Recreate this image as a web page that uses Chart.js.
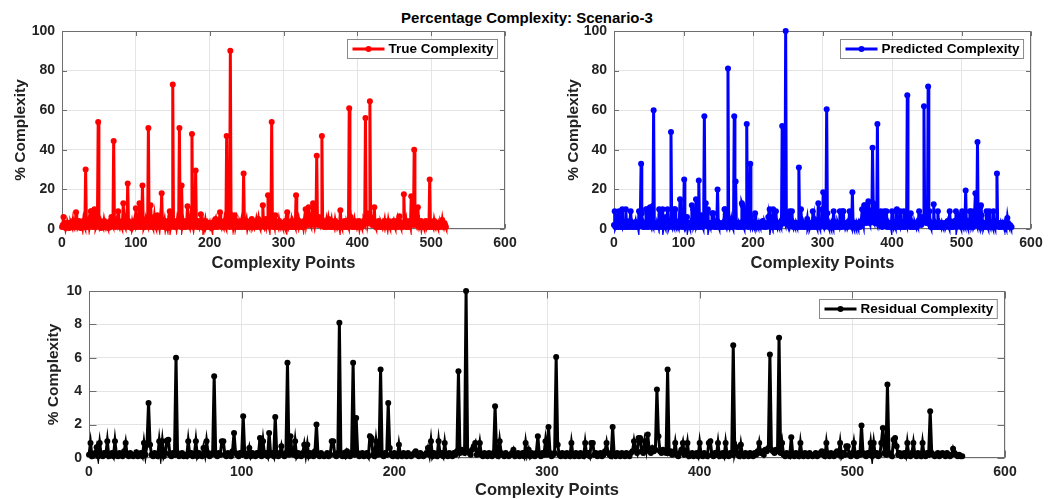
<!DOCTYPE html>
<html>
<head>
<meta charset="utf-8">
<title>Percentage Complexity: Scenario-3</title>
<script src="https://cdn.jsdelivr.net/npm/chart.js@4.4.1/dist/chart.umd.min.js"></script>
<style>
    body { margin: 0; width: 1059px; height: 499px; overflow: hidden; background: #fff; font-family: 'Liberation Sans', Arial, sans-serif; }
    canvas { position: absolute; }
    #mainTitle { position: absolute; left: 0; top: 9px; width: 1054px; line-height: 18px; text-align: center; font-weight: bold; font-size: 15px; color: #000; }
</style>
</head>
<body>
<div id="mainTitle">Percentage Complexity: Scenario-3</div>
<canvas id="trueChart" width="523" height="258" style="left:0px;top:15px"></canvas>
<canvas id="predChart" width="497" height="258" style="left:552px;top:15px"></canvas>
<canvas id="resChart" width="996" height="225" style="left:27px;top:275px"></canvas>
<script>
// Tick labels
const xTicks = [0, 100, 200, 300, 400, 500, 600];
const yTicksPercent = [0, 20, 40, 60, 80, 100];
const yTicksResidual = [0, 2, 4, 6, 8, 10];

// True Complexity (index 0..520)
const trueComplexity = [
    1, 2, 6, 1, 3, 0.5, 2, 1, 3, 2, 0.5, 1, 3, 2, 1, 4, 2, 1, 3, 8.5,
    3, 1, 2, 4, 1, 0.5, 2, 3, 1, 4, 2, 1, 30, 3, 1, 2, 4, 1, 3, 9,
    9, 2, 1, 4, 10, 3, 1, 2, 4, 54, 3, 1, 2, 0.5, 3, 2, 1, 4, 2, 1,
    3, 2, 1, 0.5, 2, 4, 1, 6, 3, 2, 44.5, 4, 1, 3, 2, 5, 9, 2, 1, 3,
    2, 1, 4, 13, 3, 2, 1, 5, 2, 23, 4, 1, 3, 2, 0.5, 3, 1, 2, 4, 1,
    10.5, 2, 3, 1, 4, 13, 2, 1, 5, 22, 3, 1, 2, 4, 1, 3, 2, 51, 3, 1,
    12, 4, 2, 1, 3, 6, 2, 1, 4, 7, 2, 3, 1, 5, 2, 18, 3, 1, 2, 4,
    1, 3, 2, 0.5, 4, 2, 9, 1, 3, 2, 73, 4, 1, 2, 3, 1, 4, 2, 3, 51,
    3, 1, 22, 2, 4, 1, 3, 2, 1, 4, 11.5, 3, 2, 1, 5, 2, 48, 3, 1, 4,
    2, 29.5, 3, 1, 4, 2, 1, 3, 7.5, 2, 1, 3, 0.5, 2, 4, 1, 2, 3, 1, 2,
    3, 1, 2, 0.5, 3, 2, 1, 4, 5, 2, 1, 3, 2, 4, 8.5, 2, 1, 3, 2, 1,
    4, 2, 1, 47, 3, 2, 5, 1, 90, 3, 2, 4, 1, 3, 7, 2, 4, 1, 3, 2,
    1, 3, 2, 4, 1, 2, 28, 3, 1, 2, 4, 1, 3, 2, 1, 3, 2, 5, 1, 2,
    3, 1, 2, 4, 1, 3, 5, 2, 1, 3, 2, 4, 12, 2, 1, 3, 5, 2, 4, 17,
    3, 1, 8, 2, 54, 3, 1, 4, 2, 7, 1, 3, 2, 1, 4, 2, 1, 3, 2, 1,
    3, 2, 1, 4, 2, 8.5, 3, 1, 2, 3, 1, 4, 2, 1, 3, 2, 1, 17, 3, 2,
    1, 4, 2, 3, 1, 2, 3, 1, 4, 2, 10, 3, 5, 2, 11, 4, 3, 2, 6, 3,
    13, 4, 2, 5, 3, 37, 4, 2, 6, 3, 2, 4, 47, 3, 2, 1, 3, 2, 4, 1,
    2, 5, 3, 1, 2, 4, 1, 3, 2, 1, 4, 2, 3, 1, 2, 3, 1, 9.5, 2, 1,
    3, 2, 1, 4, 2, 1, 3, 2, 1, 61, 3, 6, 2, 1, 3, 2, 4, 1, 2, 3,
    1, 2, 4, 1, 3, 2, 1, 3, 2, 4, 3, 56, 5, 8, 3, 5, 4, 64.5, 6, 3,
    2, 4, 3, 11, 2, 1, 3, 2, 1, 4, 2, 1, 3, 2, 1, 3, 2, 4, 1, 2,
    3, 1, 4, 2, 1, 3, 2, 1, 3, 4, 2, 1, 3, 2, 4, 1, 3, 6.5, 2, 1,
    3, 2, 1, 17.5, 3, 2, 4, 1, 3, 2, 1, 4, 2, 16.5, 3, 5, 2, 40, 8, 3,
    2, 6, 11, 3, 1, 2, 4, 1, 3, 2, 1, 3, 2, 4, 1, 2, 3, 1, 25, 2,
    1, 3, 2, 1, 4, 2, 1, 3, 2, 1, 3, 2, 1, 3, 2, 4.5, 2, 1, 3, 2,
    1
];

// Predicted Complexity (index 0..572)
const predictedComplexity = [
    2, 9, 1, 2, 3, 6.5, 1, 9, 2, 1, 3, 2, 10, 1, 2, 3, 1, 10, 2, 1,
    3, 2, 1, 4, 9, 2, 1, 3, 2, 1, 2, 3.5, 1, 2, 3, 1, 9, 2, 8, 33,
    8, 2, 1, 3, 2, 1, 10, 2, 10, 1, 3, 10.5, 11, 2, 1, 3, 2, 60, 3, 1,
    2, 3, 1, 2, 1, 10, 2, 3, 1, 2, 10, 1, 3, 2, 1, 6, 2, 10, 3, 1,
    2, 3, 49, 2, 1, 3, 2, 10, 10, 2, 1, 3, 2, 1, 4, 15, 3, 2, 1, 3,
    2, 25, 3, 1, 2, 6, 1, 3, 2, 1, 3, 2, 12, 1, 10, 2, 3, 1, 15, 2,
    3, 1, 24.5, 2, 1, 3, 7, 2, 1, 3, 57, 2, 13, 3, 2, 10, 1, 3, 2, 1,
    3, 8, 2, 8, 1, 3, 2, 1, 4, 20, 2, 1, 3, 2, 1, 2, 3, 1, 2, 10,
    10, 2, 1, 3, 81, 2, 1, 3, 1, 4, 2, 1, 3, 57, 2, 24, 3, 1, 2, 3,
    1, 2, 3, 1, 13, 12, 2, 1, 10, 2, 3, 53, 2, 1, 3, 2, 33, 6, 2, 1,
    3, 2, 1, 8, 2, 1, 3, 2, 1, 3, 2, 1, 2, 3, 4, 2, 1, 3, 2, 1,
    2, 3, 6, 2, 10, 1, 3, 2, 1, 10, 2, 3, 1, 9, 2, 1, 3, 2, 1, 3,
    2, 4, 52, 3, 5, 4, 3, 100, 4, 3, 2, 5, 7, 9, 2, 3, 9, 2, 1, 3,
    2, 1, 3, 2, 1, 3, 31, 2, 1, 10, 3, 2, 1, 3, 2, 1, 2, 3, 5, 1,
    2, 3, 1, 2, 3, 1, 9, 2, 5, 1, 3, 2, 1, 3, 13, 2, 1, 3, 2, 10,
    2, 18.5, 3, 1, 2, 3, 60.5, 8, 2, 1, 3, 2, 1, 3, 2, 1, 9, 2, 1, 3,
    2, 1, 3, 2, 1, 9, 2, 3, 1, 9, 9, 2, 3, 1, 2, 3, 1, 2, 4, 9,
    3, 2, 1, 18.5, 2, 1, 3, 2, 1, 3, 2, 1, 3, 2, 1, 3, 4, 10, 5, 3,
    12, 12, 4, 3, 10, 5, 14, 4, 3, 6, 4, 5, 41, 13, 4, 3, 5, 4, 3, 53,
    3, 4, 2, 3, 9, 2, 1, 3, 5, 9, 2, 3, 9, 1, 2, 3, 1, 2, 3, 1,
    9, 2, 1, 3, 2, 1, 9, 10, 2, 1, 3, 2, 9, 1, 2, 3, 1, 9, 2, 1,
    3, 2, 67.5, 3, 6.5, 2, 1, 8, 2, 1, 3, 2, 1, 3, 2, 1, 3, 2, 4, 9,
    3, 4, 2, 5, 4, 6, 62, 5, 4, 3, 5, 4, 72, 3, 9, 2, 1, 3, 2, 1,
    12.5, 2, 1, 3, 2, 1, 9, 2, 1, 3, 2, 1, 3, 2, 1, 2, 3, 1, 2, 3,
    4, 2, 1, 9, 2, 1, 3, 2, 1, 3, 4, 2, 9, 1, 3, 2, 7, 7, 2, 1,
    3, 9, 2, 1, 3, 2, 19.5, 3, 2, 1, 3, 2, 9, 1, 9, 2, 3, 1, 2, 9,
    18, 3, 2, 44, 3, 2, 1, 11, 12, 7, 2, 3, 1, 2, 3, 1, 9, 2, 1, 3,
    9, 2, 1, 3, 2, 1, 9, 2, 1, 3, 2, 28, 3, 2, 1, 2, 3, 1, 2, 3,
    2, 1, 3, 2, 1, 2, 5.5, 3, 2, 1, 2, 1, 1
];

// Residual Complexity (index 0..572)
const residualComplexity = [
    0.2, 0.9, 0.1, 0.2, 0.3, 0.65, 0.1, 0.9, 0.2, 0.1, 0.3, 0.2, 1, 0.1, 0.2, 0.3, 0.1, 1, 0.2, 0.1,
    0.3, 0.2, 0.1, 0.4, 0.9, 0.2, 0.1, 0.3, 0.2, 0.1, 0.2, 0.35, 0.1, 0.2, 0.3, 0.1, 0.9, 0.2, 0.8, 3.3,
    0.8, 0.2, 0.1, 0.3, 0.2, 0.1, 1, 0.2, 1, 0.1, 0.3, 1.05, 1.1, 0.2, 0.1, 0.3, 0.2, 6, 0.3, 0.1,
    0.2, 0.3, 0.1, 0.2, 0.1, 1, 0.2, 0.3, 0.1, 0.2, 1, 0.1, 0.3, 0.2, 0.1, 0.6, 0.2, 1, 0.3, 0.1,
    0.2, 0.3, 4.9, 0.2, 0.1, 0.3, 0.2, 1, 1, 0.2, 0.1, 0.3, 0.2, 0.1, 0.4, 1.5, 0.3, 0.2, 0.1, 0.3,
    0.2, 2.5, 0.3, 0.1, 0.2, 0.6, 0.1, 0.3, 0.2, 0.1, 0.3, 0.2, 1.2, 0.1, 1, 0.2, 0.3, 0.1, 1.5, 0.2,
    0.3, 0.1, 2.45, 0.2, 0.1, 0.3, 0.7, 0.2, 0.1, 0.3, 5.7, 0.2, 1.3, 0.3, 0.2, 1, 0.1, 0.3, 0.2, 0.1,
    0.3, 0.8, 0.2, 0.8, 0.1, 0.3, 0.2, 0.1, 0.4, 2, 0.2, 0.1, 0.3, 0.2, 0.1, 0.2, 0.3, 0.1, 0.2, 1,
    1, 0.2, 0.1, 0.3, 8.1, 0.2, 0.1, 0.3, 0.1, 0.4, 0.2, 0.1, 0.3, 5.7, 0.2, 2.4, 0.3, 0.1, 0.2, 0.3,
    0.1, 0.2, 0.3, 0.1, 1.3, 1.2, 0.2, 0.1, 1, 0.2, 0.3, 5.3, 0.2, 0.1, 0.3, 0.2, 3.3, 0.6, 0.2, 0.1,
    0.3, 0.2, 0.1, 0.8, 0.2, 0.1, 0.3, 0.2, 0.1, 0.3, 0.2, 0.1, 0.2, 0.3, 0.4, 0.2, 0.1, 0.3, 0.2, 0.1,
    0.2, 0.3, 0.6, 0.2, 1, 0.1, 0.3, 0.2, 0.1, 1, 0.2, 0.3, 0.1, 0.9, 0.2, 0.1, 0.3, 0.2, 0.1, 0.3,
    0.2, 0.4, 5.2, 0.3, 0.5, 0.4, 0.3, 10, 0.4, 0.3, 0.2, 0.5, 0.7, 0.9, 0.2, 0.3, 0.9, 0.2, 0.1, 0.3,
    0.2, 0.1, 0.3, 0.2, 0.1, 0.3, 3.1, 0.2, 0.1, 1, 0.3, 0.2, 0.1, 0.3, 0.2, 0.1, 0.2, 0.3, 0.5, 0.1,
    0.2, 0.3, 0.1, 0.2, 0.3, 0.1, 0.9, 0.2, 0.5, 0.1, 0.3, 0.2, 0.1, 0.3, 1.3, 0.2, 0.1, 0.3, 0.2, 1,
    0.2, 1.85, 0.3, 0.1, 0.2, 0.3, 6.05, 0.8, 0.2, 0.1, 0.3, 0.2, 0.1, 0.3, 0.2, 0.1, 0.9, 0.2, 0.1, 0.3,
    0.2, 0.1, 0.3, 0.2, 0.1, 0.9, 0.2, 0.3, 0.1, 0.9, 0.9, 0.2, 0.3, 0.1, 0.2, 0.3, 0.1, 0.2, 0.4, 0.9,
    0.3, 0.2, 0.1, 1.85, 0.2, 0.1, 0.3, 0.2, 0.1, 0.3, 0.2, 0.1, 0.3, 0.2, 0.1, 0.3, 0.4, 1, 0.5, 0.3,
    1.2, 1.2, 0.4, 0.3, 1, 0.5, 1.4, 0.4, 0.3, 0.6, 0.4, 0.5, 4.1, 1.3, 0.4, 0.3, 0.5, 0.4, 0.3, 5.3,
    0.3, 0.4, 0.2, 0.3, 0.9, 0.2, 0.1, 0.3, 0.5, 0.9, 0.2, 0.3, 0.9, 0.1, 0.2, 0.3, 0.1, 0.2, 0.3, 0.1,
    0.9, 0.2, 0.1, 0.3, 0.2, 0.1, 0.9, 1, 0.2, 0.1, 0.3, 0.2, 0.9, 0.1, 0.2, 0.3, 0.1, 0.9, 0.2, 0.1,
    0.3, 0.2, 6.75, 0.3, 0.65, 0.2, 0.1, 0.8, 0.2, 0.1, 0.3, 0.2, 0.1, 0.3, 0.2, 0.1, 0.3, 0.2, 0.4, 0.9,
    0.3, 0.4, 0.2, 0.5, 0.4, 0.6, 6.2, 0.5, 0.4, 0.3, 0.5, 0.4, 7.2, 0.3, 0.9, 0.2, 0.1, 0.3, 0.2, 0.1,
    1.25, 0.2, 0.1, 0.3, 0.2, 0.1, 0.9, 0.2, 0.1, 0.3, 0.2, 0.1, 0.3, 0.2, 0.1, 0.2, 0.3, 0.1, 0.2, 0.3,
    0.4, 0.2, 0.1, 0.9, 0.2, 0.1, 0.3, 0.2, 0.1, 0.3, 0.4, 0.2, 0.9, 0.1, 0.3, 0.2, 0.7, 0.7, 0.2, 0.1,
    0.3, 0.9, 0.2, 0.1, 0.3, 0.2, 1.95, 0.3, 0.2, 0.1, 0.3, 0.2, 0.9, 0.1, 0.9, 0.2, 0.3, 0.1, 0.2, 0.9,
    1.8, 0.3, 0.2, 4.4, 0.3, 0.2, 0.1, 1.1, 1.2, 0.7, 0.2, 0.3, 0.1, 0.2, 0.3, 0.1, 0.9, 0.2, 0.1, 0.3,
    0.9, 0.2, 0.1, 0.3, 0.2, 0.1, 0.9, 0.2, 0.1, 0.3, 0.2, 2.8, 0.3, 0.2, 0.1, 0.2, 0.3, 0.1, 0.2, 0.3,
    0.2, 0.1, 0.3, 0.2, 0.1, 0.2, 0.55, 0.3, 0.2, 0.1, 0.2, 0.1, 0.1
];

const fontFamily = "'Liberation Sans', Arial, sans-serif";
const axisColor = '#6e6e6e';
const gridColor = '#e4e4e4';

// Achsenrahmen mit nach innen zeigenden Ticks (wie MATLAB)
const axesBoxPlugin = {
    id: 'axesBox',
    beforeDatasetsDraw(chart, args, opts)
    {
        const { ctx, chartArea: a, scales } = chart;
        const L = opts.tickLength || 5;
        const left = Math.round(a.left) + 0.5, right = Math.round(a.right) - 0.5;
        const top = Math.round(a.top) + 0.5, bottom = Math.round(a.bottom) - 0.5;
        ctx.save();
        ctx.strokeStyle = axisColor;
        ctx.lineWidth = 1;
        ctx.strokeRect(left, top, right - left, bottom - top);
        ctx.beginPath();
        scales.x.ticks.forEach(t =>
        {
            const x = Math.round(scales.x.getPixelForValue(t.value)) + 0.5;
            ctx.moveTo(x, bottom); ctx.lineTo(x, bottom - L);
            ctx.moveTo(x, top); ctx.lineTo(x, top + L);
        });
        scales.y.ticks.forEach(t =>
        {
            const y = Math.round(scales.y.getPixelForValue(t.value)) + 0.5;
            ctx.moveTo(left, y); ctx.lineTo(left + L, y);
            ctx.moveTo(right, y); ctx.lineTo(right - L, y);
        });
        ctx.stroke();
        ctx.restore();
    }
};

// Legende im Diagramm oben rechts
const boxLegendPlugin = {
    id: 'boxLegend',
    afterDraw(chart)
    {
        const { ctx, chartArea: a } = chart;
        const ds = chart.data.datasets[0];
        ctx.save();
        ctx.font = 'bold 13.5px ' + fontFamily;
        const tw = ctx.measureText(ds.label).width;
        const w = 5 + 32 + 4 + tw + 4;
        const h = 19;
        const x0 = Math.round(a.right - 8 - w) + 0.5;
        const y0 = Math.round(a.top + 8) + 0.5;
        ctx.fillStyle = '#ffffff';
        ctx.fillRect(x0, y0, w, h);
        ctx.strokeStyle = '#8a8a8a';
        ctx.lineWidth = 1;
        ctx.strokeRect(x0, y0, w, h);

        const ym = y0 + h / 2;
        ctx.strokeStyle = ds.borderColor;
        ctx.lineWidth = 3;
        ctx.beginPath();
        ctx.moveTo(x0 + 5, ym);
        ctx.lineTo(x0 + 37, ym);
        ctx.stroke();
        ctx.fillStyle = ds.borderColor;
        ctx.beginPath();
        ctx.arc(x0 + 21, ym, 3, 0, Math.PI * 2);
        ctx.fill();

        ctx.fillStyle = '#000000';
        ctx.textBaseline = 'middle';
        ctx.fillText(ds.label, x0 + 41, ym + 0.5);
        ctx.restore();
    }
};

function createChart(canvasId, label, values, color, yTicks, yTitlePad, xHeight, tickLength)
{
    const ctx = document.getElementById(canvasId).getContext('2d');
    const tickFont = { family: fontFamily, size: 14, weight: 'bold' };

    return new Chart(ctx, {
        type: 'line',
        data: {
            datasets: [{
                label: label,
                data: values.map((v, i) => ({ x: i, y: v })),
                borderColor: color,
                backgroundColor: color,
                borderWidth: 3,
                pointRadius: 3,
                pointBorderWidth: 0,
                pointBackgroundColor: color,
                tension: 0,
                clip: 6,
            }]
        },
        options: {
            responsive: false,
            devicePixelRatio: 1,
            animation: false,
            events: [],
            // Platz für halbe Ticklabels oben/rechts, damit der Plotbereich exakt sitzt
            layout: { padding: { top: 16, right: 18, bottom: 0, left: 0 } },
            plugins: {
                legend: { display: false },
                tooltip: { enabled: false },
                title: { display: false },
                axesBox: { tickLength: tickLength },
            },
            scales: {
                x: {
                    type: 'linear',
                    min: xTicks[0],
                    max: xTicks[xTicks.length - 1],
                    afterBuildTicks: s => { s.ticks = xTicks.map(v => ({ value: v })); },
                    afterFit: s => { s.height = xHeight; },
                    grid: { color: gridColor, drawTicks: false },
                    border: { display: false },
                    ticks: { font: tickFont, color: '#222222', padding: 6, maxRotation: 0, autoSkip: false },
                    title: {
                        display: true,
                        text: 'Complexity Points',
                        font: { family: fontFamily, size: 16.5, weight: 'bold' },
                        color: '#222222',
                        padding: { top: 0, bottom: 0 },
                    }
                },
                y: {
                    min: yTicks[0],
                    max: yTicks[yTicks.length - 1],
                    afterBuildTicks: s => { s.ticks = yTicks.map(v => ({ value: v })); },
                    afterFit: s => { s.width = 62; },
                    grid: { color: gridColor, drawTicks: false },
                    border: { display: false },
                    ticks: { font: tickFont, color: '#222222', padding: 7 },
                    title: {
                        display: true,
                        text: '% Complexity',
                        font: { family: fontFamily, size: 15.5, weight: 'bold' },
                        color: '#222222',
                        padding: { top: yTitlePad, bottom: 0 },
                    }
                }
            }
        },
        plugins: [axesBoxPlugin, boxLegendPlugin],
    });
}

createChart('trueChart', 'True Complexity', trueComplexity, '#ff0000', yTicksPercent, 11, 44, 4.5);
createChart('predChart', 'Predicted Complexity', predictedComplexity, '#0000ff', yTicksPercent, 12.5, 44, 4.5);
createChart('resChart', 'Residual Complexity', residualComplexity, '#000000', yTicksResidual, 17.5, 42, 7);
</script>
</body>
</html>
